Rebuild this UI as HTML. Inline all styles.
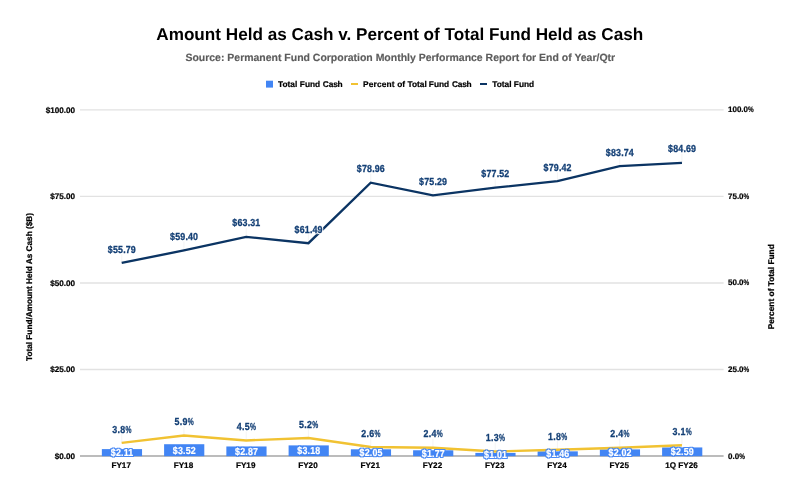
<!DOCTYPE html>
<html lang="en">
<head>
<meta charset="utf-8">
<title>Amount Held as Cash v. Percent of Total Fund Held as Cash</title>
<style>
html,body{margin:0;padding:0;background:#fff;}
body{width:800px;height:494px;overflow:hidden;}
svg{display:block;font-family:"Liberation Sans",Arial,sans-serif;text-rendering:geometricPrecision;}
.t{font-weight:bold;fill:#000;}
.tick{font-weight:bold;fill:#000;font-size:8.15px;stroke:#000;stroke-width:0.2px;}
.lab{font-weight:bold;fill:#133f75;font-size:10.2px;text-anchor:middle;filter:url(#halo);stroke:#133f75;stroke-width:0.3px;letter-spacing:0.2px;}
.blab{font-weight:bold;fill:#fff;font-size:10.2px;text-anchor:middle;filter:url(#aura);stroke:#fff;stroke-width:0.2px;letter-spacing:0.2px;}
</style>
</head>
<body>
<svg width="800" height="494" viewBox="0 0 800 494">
<defs>
<filter id="halo" color-interpolation-filters="sRGB" x="-20%" y="-40%" width="140%" height="180%"><feMorphology in="SourceAlpha" operator="dilate" radius="0.7" result="d"/><feGaussianBlur in="d" stdDeviation="0.3" result="b"/><feFlood flood-color="#ffffff" flood-opacity="0.95"/><feComposite in2="b" operator="in" result="h"/><feMerge><feMergeNode in="h"/><feMergeNode in="SourceGraphic"/></feMerge></filter>
<filter id="aura" color-interpolation-filters="sRGB" x="-20%" y="-40%" width="140%" height="180%"><feMorphology in="SourceAlpha" operator="dilate" radius="0.9" result="d"/><feGaussianBlur in="d" stdDeviation="0.35" result="b"/><feFlood flood-color="#4285f4" flood-opacity="0.95"/><feComposite in2="b" operator="in" result="h"/><feMerge><feMergeNode in="h"/><feMergeNode in="SourceGraphic"/></feMerge></filter>
</defs>
<rect x="0" y="0" width="800" height="494" fill="#ffffff"/>
<text class="t" x="399.8" y="40.2" text-anchor="middle" font-size="17.15">Amount Held as Cash v. Percent of Total Fund Held as Cash</text>
<text class="t" x="400.3" y="61.3" text-anchor="middle" font-size="10.47" style="fill:#5c5c5c;stroke:#5c5c5c;stroke-width:0.15px">Source: Permanent Fund Corporation Monthly Performance Report for End of Year/Qtr</text>
<g font-size="8.35" stroke="#000" stroke-width="0.2">
<rect x="266" y="80.7" width="7" height="6.9" stroke="none" fill="#4285f4"/>
<text class="t" x="278.0" y="86.7">Total <tspan dx="0.2">Fund </tspan><tspan dx="0.3" letter-spacing="-0.2">Cash</tspan></text>
<rect x="351" y="83" width="7" height="2" stroke="none" fill="#f1c232"/>
<text class="t" x="363" y="86.7"><tspan letter-spacing="0.15">Percent </tspan>of <tspan dx="0.1">Total </tspan><tspan dx="-0.3">Fund </tspan><tspan dx="0.4" letter-spacing="-0.2">Cash</tspan></text>
<rect x="480" y="83" width="7" height="2" stroke="none" fill="#0b3463"/>
<text class="t" x="492.2" y="86.7">Total Fund</text>
</g>
<g stroke="#e2e2e2" stroke-width="1.4">
<line x1="80.0" x2="723.6" y1="369.48" y2="369.48"/>
<line x1="80.0" x2="723.6" y1="282.95" y2="282.95"/>
<line x1="80.0" x2="723.6" y1="196.42" y2="196.42"/>
<line x1="80.0" x2="723.6" y1="109.90" y2="109.90"/>
</g>
<text class="tick" x="75.0" y="458.90" text-anchor="end">$0.00</text>
<text class="tick" x="728.0" y="458.50" style="font-size:8px">0.0<tspan textLength="5.7" lengthAdjust="spacingAndGlyphs">%</tspan></text>
<text class="tick" x="75.0" y="372.38" text-anchor="end">$25.00</text>
<text class="tick" x="728.0" y="371.98" style="font-size:8px">25.0<tspan textLength="5.7" lengthAdjust="spacingAndGlyphs">%</tspan></text>
<text class="tick" x="75.0" y="285.85" text-anchor="end">$50.00</text>
<text class="tick" x="728.0" y="285.45" style="font-size:8px">50.0<tspan textLength="5.7" lengthAdjust="spacingAndGlyphs">%</tspan></text>
<text class="tick" x="75.0" y="199.32" text-anchor="end">$75.00</text>
<text class="tick" x="728.0" y="198.92" style="font-size:8px">75.0<tspan textLength="5.7" lengthAdjust="spacingAndGlyphs">%</tspan></text>
<text class="tick" x="75.0" y="112.80" text-anchor="end">$100.00</text>
<text class="tick" x="728.0" y="112.40" style="font-size:8px">100.0<tspan textLength="5.7" lengthAdjust="spacingAndGlyphs">%</tspan></text>
<text class="t" stroke="#000" stroke-width="0.25" font-size="8.22" text-anchor="middle" transform="translate(31.7 287) rotate(-90)">Total Fund/Amount Held As Cash ($B)</text>
<text class="t" stroke="#000" stroke-width="0.25" font-size="8.35" text-anchor="middle" transform="translate(773.9 286.8) rotate(-90)">Percent of Total Fund</text>
<line x1="80.0" x2="723.6" y1="456.0" y2="456.0" stroke="#a6a6a6" stroke-width="1.7"/>
<g fill="#4285f4">
<rect x="101.85" y="449.10" width="40.2" height="7.10"/>
<rect x="164.10" y="444.22" width="40.2" height="11.98"/>
<rect x="226.35" y="446.47" width="40.2" height="9.73"/>
<rect x="288.60" y="445.39" width="40.2" height="10.81"/>
<rect x="350.85" y="449.30" width="40.2" height="6.90"/>
<rect x="413.10" y="450.27" width="40.2" height="5.93"/>
<rect x="475.35" y="452.90" width="40.2" height="3.30"/>
<rect x="537.60" y="451.35" width="40.2" height="4.85"/>
<rect x="599.85" y="449.41" width="40.2" height="6.79"/>
<rect x="662.10" y="447.44" width="40.2" height="8.76"/>
</g>
<text class="tick" x="121.20" y="467.50" text-anchor="middle">FY17</text>
<text class="tick" x="183.45" y="467.50" text-anchor="middle">FY18</text>
<text class="tick" x="245.70" y="467.50" text-anchor="middle">FY19</text>
<text class="tick" x="307.95" y="467.50" text-anchor="middle">FY20</text>
<text class="tick" x="370.20" y="467.50" text-anchor="middle">FY21</text>
<text class="tick" x="432.45" y="467.50" text-anchor="middle">FY22</text>
<text class="tick" x="494.70" y="467.50" text-anchor="middle">FY23</text>
<text class="tick" x="556.95" y="467.50" text-anchor="middle">FY24</text>
<text class="tick" x="619.20" y="467.50" text-anchor="middle">FY25</text>
<text class="tick" x="681.45" y="467.50" text-anchor="middle">1Q FY26</text>
<g stroke="#efefef" stroke-width="0.7">
<line x1="121.70" x2="121.70" y1="253.91" y2="262.91"/>
<line x1="121.70" x2="121.70" y1="433.85" y2="442.85"/>
<line x1="183.95" x2="183.95" y1="241.42" y2="250.42"/>
<line x1="183.95" x2="183.95" y1="426.58" y2="435.58"/>
<line x1="246.20" x2="246.20" y1="227.88" y2="236.88"/>
<line x1="246.20" x2="246.20" y1="431.43" y2="440.43"/>
<line x1="308.45" x2="308.45" y1="234.18" y2="243.18"/>
<line x1="308.45" x2="308.45" y1="429.00" y2="438.00"/>
<line x1="370.70" x2="370.70" y1="173.72" y2="182.72"/>
<line x1="370.70" x2="370.70" y1="438.00" y2="447.00"/>
<line x1="432.95" x2="432.95" y1="186.42" y2="195.42"/>
<line x1="432.95" x2="432.95" y1="438.69" y2="447.69"/>
<line x1="495.20" x2="495.20" y1="178.70" y2="187.70"/>
<line x1="495.20" x2="495.20" y1="442.50" y2="451.50"/>
<line x1="557.45" x2="557.45" y1="172.13" y2="181.13"/>
<line x1="557.45" x2="557.45" y1="440.77" y2="449.77"/>
<line x1="619.70" x2="619.70" y1="157.18" y2="166.18"/>
<line x1="619.70" x2="619.70" y1="438.69" y2="447.69"/>
<line x1="681.95" x2="681.95" y1="153.89" y2="162.89"/>
<line x1="681.95" x2="681.95" y1="436.27" y2="445.27"/>
</g>
<polyline fill="none" stroke="#f1c232" stroke-width="2.4" stroke-linejoin="miter" points="121.70,442.85 183.95,435.58 246.20,440.43 308.45,438.00 370.70,447.00 432.95,447.69 495.20,451.50 557.45,449.77 619.70,447.69 681.95,445.27"/>
<polyline fill="none" stroke="#0b3463" stroke-width="2.35" stroke-linejoin="miter" points="121.70,262.91 183.95,250.42 246.20,236.88 308.45,243.18 370.70,182.72 432.95,195.42 495.20,187.70 557.45,181.13 619.70,166.18 681.95,162.89"/>
<text class="blab" transform="translate(122.10 456.15) scale(0.87 1)">$2.11</text>
<text class="lab" style="letter-spacing:0.45px" transform="translate(122.00 432.65) scale(0.87 1)">3.8<tspan textLength="7.2" lengthAdjust="spacingAndGlyphs">%</tspan></text>
<text class="lab" transform="translate(121.90 252.51) scale(0.87 1)">$55.79</text>
<text class="blab" transform="translate(184.35 453.71) scale(0.87 1)">$3.52</text>
<text class="lab" style="letter-spacing:0.45px" transform="translate(184.25 425.38) scale(0.87 1)">5.9<tspan textLength="7.2" lengthAdjust="spacingAndGlyphs">%</tspan></text>
<text class="lab" transform="translate(184.15 240.02) scale(0.87 1)">$59.40</text>
<text class="blab" transform="translate(246.60 454.83) scale(0.87 1)">$2.87</text>
<text class="lab" style="letter-spacing:0.45px" transform="translate(246.50 430.23) scale(0.87 1)">4.5<tspan textLength="7.2" lengthAdjust="spacingAndGlyphs">%</tspan></text>
<text class="lab" transform="translate(246.40 226.48) scale(0.87 1)">$63.31</text>
<text class="blab" transform="translate(308.85 454.30) scale(0.87 1)">$3.18</text>
<text class="lab" style="letter-spacing:0.45px" transform="translate(308.75 427.80) scale(0.87 1)">5.2<tspan textLength="7.2" lengthAdjust="spacingAndGlyphs">%</tspan></text>
<text class="lab" transform="translate(308.65 232.78) scale(0.87 1)">$61.49</text>
<text class="blab" transform="translate(371.10 456.25) scale(0.87 1)">$2.05</text>
<text class="lab" style="letter-spacing:0.45px" transform="translate(371.00 436.80) scale(0.87 1)">2.6<tspan textLength="7.2" lengthAdjust="spacingAndGlyphs">%</tspan></text>
<text class="lab" transform="translate(370.90 172.32) scale(0.87 1)">$78.96</text>
<text class="blab" transform="translate(433.35 456.74) scale(0.87 1)">$1.77</text>
<text class="lab" style="letter-spacing:0.45px" transform="translate(433.25 437.49) scale(0.87 1)">2.4<tspan textLength="7.2" lengthAdjust="spacingAndGlyphs">%</tspan></text>
<text class="lab" transform="translate(433.15 185.02) scale(0.87 1)">$75.29</text>
<text class="blab" transform="translate(495.60 458.05) scale(0.87 1)">$1.01</text>
<text class="lab" style="letter-spacing:0.45px" transform="translate(495.50 441.30) scale(0.87 1)">1.3<tspan textLength="7.2" lengthAdjust="spacingAndGlyphs">%</tspan></text>
<text class="lab" transform="translate(495.40 177.30) scale(0.87 1)">$77.52</text>
<text class="blab" transform="translate(557.85 457.27) scale(0.87 1)">$1.46</text>
<text class="lab" style="letter-spacing:0.45px" transform="translate(557.75 439.57) scale(0.87 1)">1.8<tspan textLength="7.2" lengthAdjust="spacingAndGlyphs">%</tspan></text>
<text class="lab" transform="translate(557.65 170.73) scale(0.87 1)">$79.42</text>
<text class="blab" transform="translate(620.10 456.30) scale(0.87 1)">$2.02</text>
<text class="lab" style="letter-spacing:0.45px" transform="translate(620.00 437.49) scale(0.87 1)">2.4<tspan textLength="7.2" lengthAdjust="spacingAndGlyphs">%</tspan></text>
<text class="lab" transform="translate(619.90 155.78) scale(0.87 1)">$83.74</text>
<text class="blab" transform="translate(682.35 455.32) scale(0.87 1)">$2.59</text>
<text class="lab" style="letter-spacing:0.45px" transform="translate(682.25 435.07) scale(0.87 1)">3.1<tspan textLength="7.2" lengthAdjust="spacingAndGlyphs">%</tspan></text>
<text class="lab" transform="translate(682.15 152.49) scale(0.87 1)">$84.69</text>
</svg>
</body>
</html>
